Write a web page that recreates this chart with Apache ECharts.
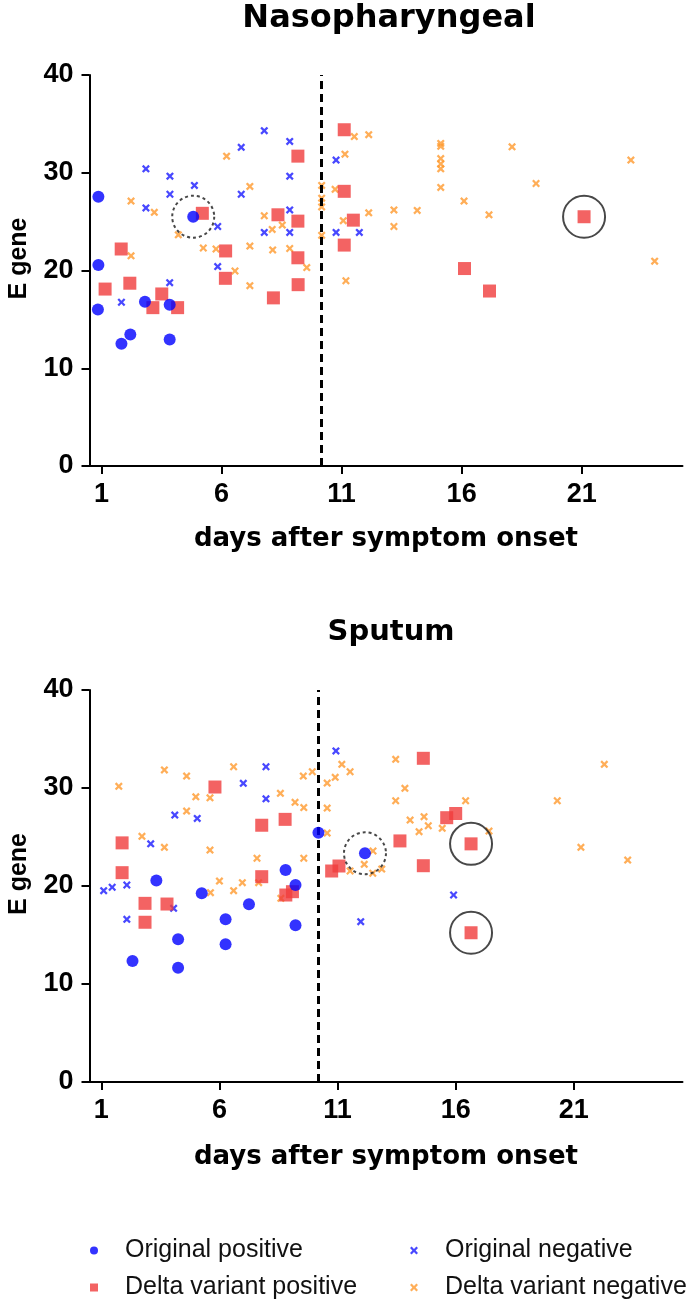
<!DOCTYPE html>
<html>
<head>
<meta charset="utf-8">
<script src="https://cdn.jsdelivr.net/npm/echarts@6/dist/echarts.min.js"></script>
<style>
  html, body { margin: 0; padding: 0; background: #fff; }
  #chart { width: 691px; height: 1305px; }
</style>
</head>
<body>
<div id="chart"></div>
<script>
// x ticks (days after symptom onset) and cut-off day
const xTicks = [1, 6, 11, 16, 21];
const cutoffDay = 10.17;

// Nasopharyngeal: [day, E gene Ct]
const nasoOrigPos = [[0.87, 27.55], [0.87, 20.56], [0.85, 16.0], [1.83, 12.5], [2.2, 13.45], [2.81, 16.8], [3.84, 16.5], [3.84, 12.95], [4.82, 25.5]];
const nasoDeltaPos = [[1.15, 18.1], [1.82, 22.2], [2.18, 18.7], [3.14, 16.2], [3.51, 17.6], [4.17, 16.2], [5.2, 25.85], [6.16, 19.2], [6.17, 22.0], [8.16, 17.2], [8.35, 25.7], [9.18, 31.7], [9.18, 25.05], [9.18, 21.3], [9.19, 18.55], [11.11, 34.4], [11.11, 28.1], [11.49, 25.15], [11.11, 22.6], [16.12, 20.2], [17.16, 17.9], [21.1, 25.5]];
const nasoOrigNeg = [[1.83, 16.75], [2.85, 30.4], [2.85, 26.4], [3.84, 18.75], [3.85, 29.65], [3.85, 27.8], [4.87, 28.7], [5.84, 24.5], [5.84, 20.4], [6.82, 32.6], [6.82, 27.8], [7.78, 34.3], [7.78, 23.9], [8.84, 33.2], [8.84, 29.65], [8.84, 26.2], [8.84, 23.9], [10.77, 31.3], [10.77, 23.9], [11.74, 23.9]];
const nasoDeltaNeg = [[2.23, 27.1], [2.23, 21.5], [3.2, 25.95], [4.2, 23.65], [5.24, 22.3], [5.77, 22.2], [6.21, 31.7], [6.56, 19.95], [7.18, 28.6], [7.18, 22.5], [7.18, 18.45], [7.78, 25.6], [8.11, 24.2], [8.13, 22.1], [8.53, 24.65], [8.84, 22.25], [9.55, 20.3], [10.17, 28.7], [10.17, 27.4], [10.17, 26.5], [10.17, 23.6], [10.73, 28.3], [11.07, 25.1], [11.14, 31.9], [11.18, 18.95], [11.53, 33.7], [12.13, 33.9], [12.13, 25.9], [13.18, 26.2], [13.18, 24.5], [14.15, 26.15], [15.13, 33.0], [15.13, 32.7], [15.13, 31.45], [15.13, 30.9], [15.13, 30.4], [15.13, 28.5], [16.1, 27.1], [17.14, 25.7], [18.1, 32.65], [19.1, 28.9], [23.05, 31.3], [24.04, 20.95]];
const nasoRingDotted = [[4.82, 25.5]];
const nasoRingSolid = [[21.1, 25.5]];

// Sputum: [day, E gene Ct]
const sputOrigPos = [[10.19, 25.44], [8.8, 21.63], [3.33, 20.55], [2.32, 12.35], [4.25, 14.56], [4.25, 11.66], [5.25, 19.26], [6.26, 16.6], [6.26, 14.05], [7.25, 18.13], [9.22, 20.1], [9.22, 16.0], [12.16, 23.34]];
const sputDeltaPos = [[5.81, 30.1], [7.79, 26.2], [8.78, 26.8], [1.88, 24.4], [1.88, 21.36], [7.79, 20.95], [2.85, 18.23], [2.85, 16.3], [3.78, 18.16], [8.81, 19.08], [9.09, 19.42], [16.65, 15.23], [14.63, 33.03], [13.64, 24.6], [15.62, 26.97], [16.0, 27.4], [16.65, 24.3], [14.63, 22.07], [11.06, 22.04], [10.75, 21.53]];
const sputOrigNeg = [[7.97, 32.17], [7.01, 30.48], [7.97, 28.9], [4.11, 27.24], [5.06, 26.9], [3.09, 24.3], [1.1, 19.52], [1.46, 19.87], [2.08, 20.1], [2.08, 16.6], [4.06, 17.72], [11.98, 16.36], [15.91, 19.08], [10.93, 33.78]];
const sputDeltaNeg = [[1.74, 30.17], [3.67, 31.84], [4.61, 31.22], [6.6, 32.17], [5.0, 29.1], [5.6, 29.0], [4.61, 27.65], [8.58, 29.46], [9.2, 28.54], [9.57, 28.0], [9.55, 31.22], [9.93, 31.66], [2.72, 25.07], [3.67, 23.95], [5.6, 23.67], [7.59, 22.83], [9.57, 22.83], [10.56, 30.5], [10.56, 27.95], [10.56, 25.4], [5.62, 19.32], [6.6, 19.52], [6.0, 20.5], [6.97, 20.34], [7.66, 20.34], [8.6, 18.74], [11.18, 32.42], [11.53, 31.66], [10.9, 31.09], [13.46, 32.93], [13.85, 29.97], [13.46, 28.7], [16.42, 28.7], [14.07, 26.73], [14.66, 27.07], [14.84, 26.15], [14.45, 25.54], [15.43, 25.89], [17.41, 25.6], [12.5, 23.57], [12.13, 22.21], [11.53, 21.53], [12.87, 21.73], [12.49, 21.3], [20.3, 28.7], [22.29, 32.42], [21.3, 23.95], [23.28, 22.65]];
const sputRingDotted = [[12.16, 23.34]];
const sputRingSolid = [[16.65, 24.3], [16.65, 15.23]];

const panels = [
  { xMax: 25.2, origPos: nasoOrigPos, deltaPos: nasoDeltaPos, origNeg: nasoOrigNeg, deltaNeg: nasoDeltaNeg, ringDotted: nasoRingDotted, ringSolid: nasoRingSolid },
  { xMax: 25.6, origPos: sputOrigPos, deltaPos: sputDeltaPos, origNeg: sputOrigNeg, deltaNeg: sputDeltaNeg, ringDotted: sputRingDotted, ringSolid: sputRingSolid }
];

const X_MARK = 'path://M0,2 L2,0 L5,3 L8,0 L10,2 L7,5 L10,8 L8,10 L5,7 L2,10 L0,8 L3,5 Z';
const BLUE = '#0000ff';
const RED = '#f03c3c';
const BLUE_X = '#1a1aff';
const ORANGE = '#ff9a2e';

const tickFont = { fontFamily: '"Liberation Sans", Arial, sans-serif', fontWeight: 'bold', fontSize: 27, color: '#000' };
const nameFont = { fontFamily: '"DejaVu Sans", sans-serif', fontWeight: 'bold', color: '#000' };
const axisLine = { show: true, lineStyle: { color: '#000', width: 2 } };
const axisTick = { show: true, inside: false, length: 8, lineStyle: { color: '#000', width: 2 } };

const grids = [
  { left: 89.5, top: 75, width: 593, height: 391, outerBoundsMode: 'none', containLabel: false },
  { left: 89.5, top: 690, width: 593, height: 392, outerBoundsMode: 'none', containLabel: false }
];

const xAxes = [], yAxes = [], series = [];
panels.forEach((p, i) => {
  xAxes.push({
    type: 'value', gridIndex: i, min: 0.5, max: p.xMax,
    name: 'days after symptom onset', nameLocation: 'middle', nameGap: 60 + i * 2,
    nameTextStyle: Object.assign({ fontSize: 26 }, nameFont),
    axisLine: axisLine,
    axisTick: Object.assign({ customValues: xTicks }, axisTick),
    axisLabel: Object.assign({ customValues: xTicks, margin: 15 }, tickFont),
    splitLine: { show: false }
  });
  yAxes.push({
    type: 'value', gridIndex: i, min: 0, max: 40, interval: 10,
    name: 'E gene', nameLocation: 'middle', nameGap: 58,
    nameTextStyle: { fontFamily: '"Liberation Sans", Arial, sans-serif', fontWeight: 'bold', fontSize: 25, color: '#000', padding: [0, 0, 0, 24] },
    axisLine: axisLine, axisTick: axisTick,
    axisLabel: Object.assign({ margin: 16 }, tickFont),
    splitLine: { show: false }
  });
  const common = { type: 'scatter', xAxisIndex: i, yAxisIndex: i };
  series.push(Object.assign({
    name: 'Delta variant negative', data: p.deltaNeg, symbol: X_MARK, symbolSize: 8,
    itemStyle: { color: ORANGE }, z: 2,
    markLine: {
      silent: true, symbol: 'none', label: { show: false },
      lineStyle: { color: '#000', type: [8, 5], width: 3 },
      data: [{ xAxis: cutoffDay }]
    }
  }, common));
  series.push(Object.assign({ name: 'Original negative', data: p.origNeg, symbol: X_MARK, symbolSize: 8, itemStyle: { color: BLUE_X }, z: 3 }, common));
  series.push(Object.assign({ name: 'Delta variant positive', data: p.deltaPos, symbol: 'rect', symbolSize: 13, itemStyle: { color: RED }, z: 4 }, common));
  series.push(Object.assign({ name: 'Original positive', data: p.origPos, symbol: 'circle', symbolSize: 12, itemStyle: { color: BLUE }, z: 5 }, common));
  series.push(Object.assign({ data: p.ringDotted, symbol: 'circle', symbolSize: 42, silent: true, z: 6,
    itemStyle: { color: 'rgba(0,0,0,0)', borderColor: '#1a1a1a', borderWidth: 2, borderType: [3, 3] } }, common));
  series.push(Object.assign({ data: p.ringSolid, symbol: 'circle', symbolSize: 42, silent: true, z: 6,
    itemStyle: { color: 'rgba(0,0,0,0)', borderColor: '#1a1a1a', borderWidth: 2 } }, common));
});

const legendText = { fontFamily: '"Liberation Sans", Arial, sans-serif', fontSize: 25, color: '#111', padding: [0, 0, 0, 22] };
const option = {
  backgroundColor: '#fff',
  animation: false,
  title: [
    { text: 'Nasopharyngeal', left: 384, top: -2, textAlign: 'center', textStyle: Object.assign({ fontSize: 32 }, nameFont) },
    { text: 'Sputum', left: 386, top: 613, textAlign: 'center', textStyle: Object.assign({ fontSize: 29 }, nameFont) }
  ],
  legend: [
    { data: ['Original positive', 'Delta variant positive'], orient: 'vertical', left: 90, top: 1238, padding: 0,
      itemWidth: 8, itemHeight: 8, itemGap: 12, textStyle: legendText, selectedMode: false },
    { data: ['Original negative', 'Delta variant negative'], orient: 'vertical', left: 410, top: 1238, padding: 0,
      itemWidth: 8, itemHeight: 8, itemGap: 12, textStyle: legendText, selectedMode: false }
  ],
  grid: grids,
  xAxis: xAxes,
  yAxis: yAxes,
  series: series
};

const chart = echarts.init(document.getElementById('chart'), null, { renderer: 'canvas' });
chart.setOption(option);
</script>
</body>
</html>
